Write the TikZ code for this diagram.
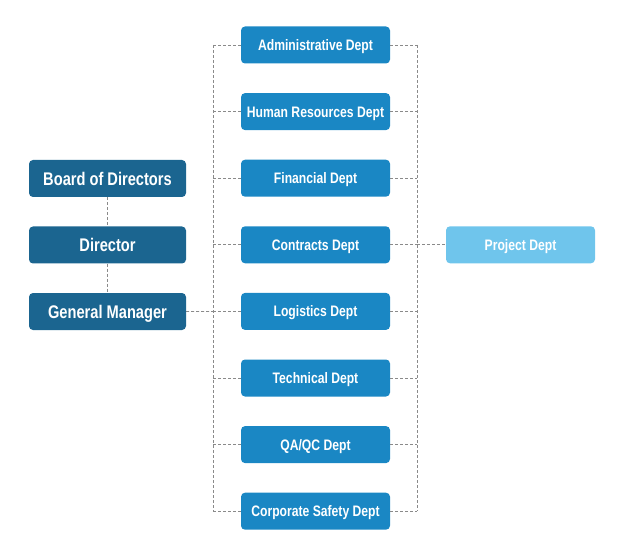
\documentclass[tikz,border=0pt]{standalone}
\usepackage{fontspec}
\setmainfont{Liberation Sans}[FakeStretch=0.8]
\definecolor{darkbox}{HTML}{1B6590}
\definecolor{deptbox}{HTML}{1A87C4}
\definecolor{projbox}{HTML}{6FC5EC}
\definecolor{dashgray}{HTML}{8A8A8A}
\begin{document}
\begin{tikzpicture}[x=1pt,y=-1pt,
  leftbox/.style={fill=darkbox,rounded corners=4pt,minimum width=157pt,minimum height=37pt,text=white,font=\bfseries\fontsize{18.3}{20}\selectfont,inner sep=0pt,text height=13.1pt,text depth=0pt},
  deptbox/.style={fill=deptbox,rounded corners=4pt,minimum width=149pt,minimum height=37pt,text=white,font=\bfseries\fontsize{15.2}{17}\selectfont,inner sep=0pt,text height=10.9pt,text depth=0pt},
  projstyle/.style={deptbox,fill=projbox},
  link/.style={draw=dashgray,dashed,dash pattern=on 3pt off 2pt,line width=0.7pt}]
\useasboundingbox (0,0) rectangle (624,556);
\node[leftbox] (board) at (107.5,178.5) {Board of Directors};
\node[leftbox] (dir) at (107.5,245) {Director};
\node[leftbox] (gm) at (107.5,311.5) {General Manager};
\foreach \n/\t/\y in {admin/{Administrative Dept}/45, hr/{Human Resources Dept}/111.6, fin/{Financial Dept}/178.2, con/{Contracts Dept}/244.8, log/{Logistics Dept}/311.4, tech/{Technical Dept}/378, qa/{QA/QC Dept}/444.6, corp/{Corporate Safety Dept}/511.2}{
  \node[deptbox] (\n) at (315.5,\y) {\t};
  \coordinate (L\n) at (213,\y);
  \coordinate (R\n) at (417,\y);
  \draw[link] (\n.west) -- (L\n);
  \draw[link] (\n.east) -- (R\n);
}
\node[projstyle] (proj) at (520.5,244.8) {Project Dept};
\draw[link] (board) -- (dir);
\draw[link] (dir) -- (gm);
\draw[link] (Ladmin) -- (Lcorp);
\draw[link] (Radmin) -- (Rcorp);
\draw[link] (gm.east) -- (Llog);
\draw[link] (Rcon) -- (proj.west);
\end{tikzpicture}
\end{document}
